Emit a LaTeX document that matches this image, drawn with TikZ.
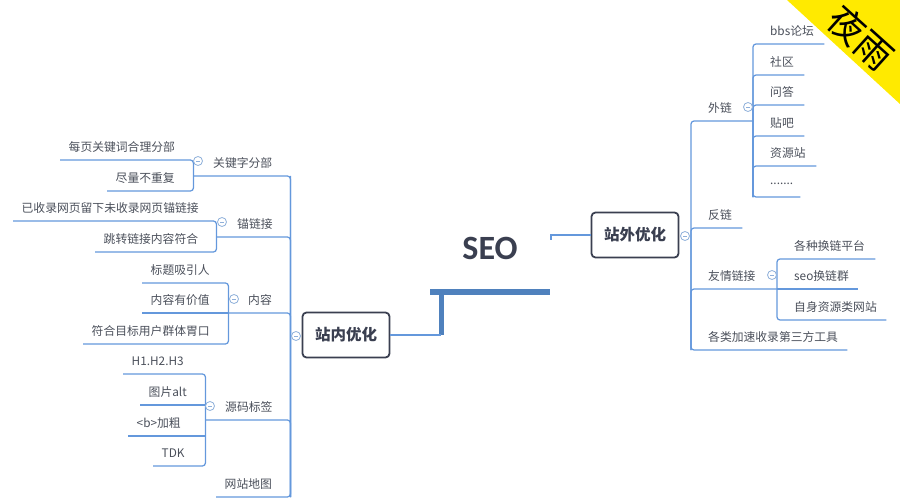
\documentclass[tikz,border=0pt]{standalone}
\usepackage{fontspec}
\setmainfont{Noto Sans CJK SC}
\newfontfamily\latinbold{Carlito}[BoldFont=Carlito Bold]
\definecolor{linec}{HTML}{6498DC}
\definecolor{barc}{HTML}{4F81BD}
\definecolor{foldc}{HTML}{8FB0DA}
\definecolor{textc}{HTML}{4A4F5A}
\definecolor{boxc}{HTML}{3A3F50}
\definecolor{cornerc}{HTML}{FFEA00}
\begin{document}
\begin{tikzpicture}[x=1pt,y=-1pt]

\def\fs{\fontsize{11.8pt}{14pt}\selectfont}
\tikzstyle{topic} = [
	inner sep=0pt, minimum height=26pt, anchor=south west,
	align=left, text=textc, font=\fs ];
\tikzstyle{ltopic} = [topic, execute at begin node={\hspace*{8.5pt}}];
\tikzstyle{lparent} = [topic, execute at begin node={\hspace*{20pt}}];
\tikzstyle{rtopic} = [topic, execute at begin node={\hspace*{17pt}}];
\tikzstyle{mainbox} = [
	draw=boxc, line width=1.8pt, rounded corners=4pt, fill=white,
	minimum width=87pt, minimum height=45pt, inner sep=0pt,
	text=boxc, font=\fontsize{15.5pt}{18pt}\selectfont\bfseries ];
\tikzstyle{fold} = [
	circle, draw=foldc, fill=white, line width=.8pt, minimum size=9pt, inner sep=0pt,
	text=foldc ];
\tikzstyle{conn} = [draw=linec, line width=1.25pt, rounded corners=3pt];
\useasboundingbox (0,0) rectangle (900,500);

\fill[cornerc] (787,0) -- (900,0) -- (900,104) -- cycle;
\node[rotate=-42,font=\fontsize{36.5pt}{37pt}\selectfont] (night) at (861,38) {夜雨};

\node[text=boxc,font=\fontsize{34pt}{36pt}\latinbold\bfseries] (seo) at (490,248) {SEO};
\node[mainbox] (inner) at (346,335) {站内优化};
\node[mainbox] (outer) at (635,235) {站外优化};

% left side
\node[lparent,text width=97pt] (kw) at (193,176) {关键字分部};
\node[ltopic,text width=133pt] (kw1) at (60,160) {每页关键词合理分部};
\node[ltopic,text width=86pt] (kw2) at (107,191) {尽量不重复};
\node[lparent,text width=74pt] (an) at (216,237) {\hspace*{1pt}锚链接};
\node[ltopic,text width=203pt] (an1) at (13,221) {已收录网页留下未收录网页锚链接};
\node[ltopic,text width=121pt] (an2) at (95,252) {跳转链接内容符合};
\node[lparent,text width=62pt] (co) at (228,313) {内容};
\node[ltopic,text width=86pt] (co1) at (142,283) {标题吸引人};
\node[ltopic,text width=86pt] (co2) at (142,313) {内容有价值};
\node[ltopic,text width=145pt] (co3) at (83,344) {符合目标用户群体胃口};
\node[lparent,text width=85pt] (sr) at (205,420) {源码标签};
\node[ltopic,text width=82pt] (sr1) at (123,374) {H1.H2.H3};
\node[ltopic,text width=65pt] (sr2) at (140,405) {图片alt};
\node[ltopic,text width=77pt] (sr3) at (128,436) {<b>加粗};
\node[ltopic,text width=52pt] (sr4) at (153,466) {TDK};
\node[ltopic,text width=74pt] (mp) at (216,497) {网站地图};

% right side
\node[rtopic,text width=62pt] (ex) at (691,121) {外链};
\node[rtopic,text width=71pt] (ex1) at (753,44) {bbs论坛};
\node[rtopic,text width=51pt] (ex2) at (753,75) {社区};
\node[rtopic,text width=51pt] (ex3) at (753,105) {问答};
\node[rtopic,text width=51pt] (ex4) at (753,136) {贴吧};
\node[rtopic,text width=63pt] (ex5) at (753,166) {资源站};
\node[rtopic,text width=47pt] (ex6) at (753,197) {.......};
\node[rtopic,text width=51pt] (bk) at (691,228) {反链};
\node[rtopic,text width=86pt] (fr) at (691,289) {友情链接};
\node[rtopic,text width=98pt] (fr1) at (777,259) {各种换链平台};
\node[rtopic,text width=81pt] (fr2) at (777,289) {seo换链群};
\node[rtopic,text width=109pt] (fr3) at (777,320) {自身资源类网站};
\node[rtopic,text width=156pt] (tl) at (691,350) {各类加速收录第三方工具};

% branches
\foreach \n in {kw,an,co,sr}
	\draw[conn] (\n.south west) -- (\n.south east) -- (mp.south east);
\draw[conn] (mp.south west) -- (mp.south east) -- (kw.south east);
\draw[conn] (kw1.south west) -- (kw1.south east) -- (kw2.south east) -- (kw2.south west);
\draw[conn] (an1.south west) -- (an1.south east) -- (an2.south east) -- (an2.south west);
\draw[conn] (co1.south west) -- (co1.south east) -- (co3.south east) -- (co3.south west);
\draw[conn] (co2.south west) -- (co2.south east);
\draw[conn] (sr1.south west) -- (sr1.south east) -- (sr4.south east) -- (sr4.south west);
\foreach \n in {sr2,sr3}
	\draw[conn] (\n.south west) -- (\n.south east);

\draw[conn] (ex1.south east) -- (ex1.south west) -- (ex6.south west) -- (ex6.south east);
\foreach \n in {ex2,ex3,ex4,ex5}
	\draw[conn] (\n.south east) -- (\n.south west) -- (ex6.south west);
\draw[conn] (ex.south east) -- (ex.south west) -- (tl.south west) -- (tl.south east);
\foreach \n in {bk,fr}
	\draw[conn] (\n.south east) -- (\n.south west) -- (tl.south west);
\draw[conn] (fr1.south east) -- (fr1.south west) -- (fr3.south west) -- (fr3.south east);
\draw[conn] (fr2.south west) -- (fr2.south east);

% centre lines
\coordinate (barl) at (430,292);
\coordinate (barr) at (550,292);
\coordinate (elbow) at (441,335);
\coordinate (tick) at (551,240);
\draw[barc,line width=6.5pt] (barl) -- (barr);
\draw[barc,line width=5pt] (elbow |- barl) -- (elbow);
\draw[linec,line width=1.25pt] (inner.east) -- (elbow);
\draw[linec,line width=1.25pt] (outer.west) -| (tick);

% folds
\node[fold] (f1) at (198,161) {\rule{4pt}{.7pt}};
\node[fold] (f2) at (222,222) {\rule{4pt}{.7pt}};
\node[fold] (f3) at (234,299) {\rule{4pt}{.7pt}};
\node[fold] (f4) at (210,406) {\rule{4pt}{.7pt}};
\node[fold] (f5) at (296,336) {\rule{4pt}{.7pt}};
\node[fold] (f6) at (685,236) {\rule{4pt}{.7pt}};
\node[fold] (f7) at (748,107) {\rule{4pt}{.7pt}};
\node[fold] (f8) at (772,275) {\rule{4pt}{.7pt}};

\end{tikzpicture}
\end{document}
